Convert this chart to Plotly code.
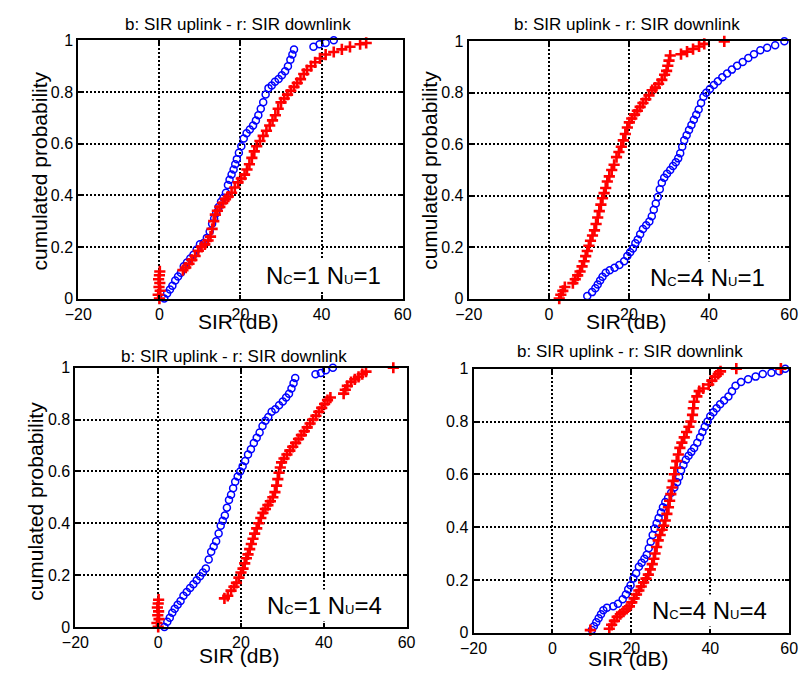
import plotly.graph_objects as go

# page is 812x678; the html body has an 8px margin, so the figure itself is 796x662
PAGE_OFF = 8
W, H = 796, 662

# ---------------- data (SIR in dB, cumulated probability) ----------------
# Panel 1: N_C=1 N_U=1
ul1_x = [1.2, 1.9, 2.6, 3.2, 3.9, 4.6, 5.3, 6.0, 6.8, 7.6, 8.4, 9.2, 10.0, 10.9, 11.7,
         12.4, 13.0, 13.5, 14.0, 14.6, 15.2, 15.8, 16.4, 16.9, 17.3, 17.8, 18.3, 18.7, 19.1, 19.6,
         20.2, 20.8, 21.5, 22.3, 23.1, 23.8, 24.4, 25.0, 25.6, 26.2, 26.9, 27.7, 28.5, 29.4, 30.2,
         31.0, 31.7, 32.3, 32.8, 33.2, 38.0, 39.5, 41.0, 43.0]
ul1_y = [0.0, 0.02, 0.035, 0.05, 0.07, 0.085, 0.10, 0.125, 0.14, 0.155, 0.17, 0.19, 0.21, 0.215, 0.235,
         0.26, 0.29, 0.31, 0.33, 0.355, 0.375, 0.39, 0.41, 0.44, 0.46, 0.48, 0.50, 0.52, 0.54, 0.565,
         0.59, 0.62, 0.64, 0.655, 0.67, 0.69, 0.71, 0.735, 0.76, 0.79, 0.815, 0.825, 0.84, 0.85, 0.865,
         0.88, 0.90, 0.925, 0.945, 0.965, 0.975, 0.985, 0.99, 1.0]
dl1_x = [0.0, -0.3, 0.2, -0.1, 0.1, -0.2, 0.0, 0.1,
         5.8, 6.5, 7.3, 8.0, 8.8, 9.6, 10.4, 11.2, 12.0, 12.6, 13.0, 13.4, 13.8, 14.3, 14.9,
         15.6, 16.3, 17.0, 17.8, 18.6, 19.4, 20.2, 21.0, 21.6, 22.2, 22.8, 23.4, 24.0, 24.8, 25.6,
         26.4, 27.2, 27.9, 28.6, 29.3, 30.0, 30.8, 31.6, 32.4, 33.2, 34.0, 34.8, 35.6, 36.4, 37.4,
         38.4, 39.6, 41.0, 43.0, 45.0, 47.0, 49.5, 51.0]
dl1_y = [0.0, 0.015, 0.03, 0.045, 0.06, 0.075, 0.09, 0.105,
         0.11, 0.12, 0.135, 0.15, 0.165, 0.185, 0.20, 0.21, 0.225, 0.24, 0.27, 0.30, 0.325, 0.34, 0.355,
         0.37, 0.385, 0.395, 0.41, 0.43, 0.45, 0.465, 0.48, 0.50, 0.52, 0.545, 0.57, 0.59, 0.61, 0.63,
         0.65, 0.67, 0.69, 0.71, 0.735, 0.76, 0.775, 0.79, 0.805, 0.82, 0.835, 0.85, 0.87, 0.885, 0.90,
         0.915, 0.93, 0.945, 0.955, 0.965, 0.975, 0.985, 0.99]

# Panel 2: N_C=4 N_U=1
ul2_x = [9.6, 10.8, 11.6, 12.2, 12.8, 13.4, 14.2, 15.2, 16.4, 17.6, 18.8, 19.6, 20.3, 21.0, 21.6,
         22.2, 22.8, 23.5, 24.3, 25.1, 25.7, 26.2, 26.7, 27.2, 27.7, 28.2, 28.8, 29.5, 30.3, 31.0,
         31.7, 32.3, 32.8, 33.3, 33.8, 34.4, 35.0, 35.6, 36.2, 36.8, 37.4, 38.0, 38.6, 39.3, 40.2,
         41.2, 42.2, 43.3, 44.5, 45.7, 47.0, 48.4, 49.8, 51.2, 52.8, 54.5, 56.5, 58.8]
ul2_y = [0.01, 0.025, 0.04, 0.055, 0.07, 0.085, 0.10, 0.11, 0.12, 0.13, 0.145, 0.165, 0.18, 0.195, 0.215,
         0.23, 0.25, 0.27, 0.285, 0.30, 0.32, 0.345, 0.37, 0.395, 0.425, 0.45, 0.47, 0.485, 0.50, 0.515,
         0.53, 0.545, 0.565, 0.59, 0.615, 0.635, 0.655, 0.675, 0.695, 0.715, 0.735, 0.76, 0.785, 0.80, 0.815,
         0.83, 0.845, 0.86, 0.875, 0.89, 0.905, 0.92, 0.935, 0.95, 0.965, 0.975, 0.985, 1.0]
dl2_x = [2.6, 3.0, 3.5, 4.0, 6.0, 6.6, 7.2, 7.8, 8.3, 8.8, 9.2, 9.6, 10.0, 10.4, 10.9,
         11.4, 11.8, 12.2, 12.6, 13.0, 13.4, 13.8, 14.2, 14.6, 15.1, 15.7, 16.3, 16.9, 17.5, 18.1,
         18.6, 19.1, 19.6, 20.1, 20.7, 21.4, 22.1, 22.8, 23.5, 24.2, 25.0, 25.8, 26.6, 27.4, 28.2,
         28.9, 29.4, 29.7, 30.0, 30.3, 33.0, 34.5, 36.0, 37.5, 38.8, 43.8]
dl2_y = [0.0, 0.015, 0.03, 0.045, 0.06, 0.075, 0.09, 0.105, 0.125, 0.145, 0.165, 0.185, 0.205, 0.225, 0.245,
         0.265, 0.29, 0.315, 0.34, 0.365, 0.39, 0.41, 0.43, 0.455, 0.475, 0.50, 0.52, 0.55, 0.57, 0.59,
         0.615, 0.64, 0.665, 0.685, 0.70, 0.715, 0.73, 0.745, 0.76, 0.775, 0.79, 0.81, 0.82, 0.835, 0.85,
         0.87, 0.885, 0.905, 0.925, 0.945, 0.95, 0.96, 0.97, 0.98, 0.99, 1.0]

# Panel 3: N_C=1 N_U=4
ul3_x = [1.5, 2.2, 2.8, 3.4, 4.0, 4.7, 5.4, 6.1, 6.9, 7.7, 8.5, 9.3, 10.1, 10.8, 11.5,
         12.2, 12.8, 13.4, 14.0, 14.6, 15.1, 15.6, 16.1, 16.6, 17.1, 17.6, 18.1, 18.6, 19.2, 19.8,
         20.4, 21.0, 21.7, 22.4, 23.1, 23.8, 24.5, 25.2, 25.9, 26.6, 27.4, 28.3, 29.2, 30.1, 30.9,
         31.6, 32.2, 32.7, 33.1, 38.0, 39.3, 40.5, 42.2]
ul3_y = [0.0, 0.02, 0.035, 0.055, 0.07, 0.085, 0.10, 0.12, 0.135, 0.15, 0.165, 0.18, 0.195, 0.21, 0.225,
         0.26, 0.29, 0.31, 0.33, 0.36, 0.39, 0.41, 0.43, 0.46, 0.49, 0.51, 0.535, 0.56, 0.58, 0.60,
         0.62, 0.64, 0.665, 0.685, 0.71, 0.73, 0.75, 0.775, 0.795, 0.81, 0.83, 0.84, 0.855, 0.87, 0.885,
         0.90, 0.92, 0.94, 0.96, 0.975, 0.98, 0.99, 1.0]
dl3_x = [0.0, -0.3, 0.2, -0.1, 0.1, -0.2, 0.0, 0.1,
         16.0, 16.8, 17.6, 18.3, 18.9, 19.5, 20.0, 20.5, 20.9, 21.3, 21.7, 22.1, 22.5, 22.9, 23.3,
         23.8, 24.3, 24.8, 25.3, 25.9, 26.5, 27.1, 27.7, 28.2, 28.6, 28.9, 29.2, 29.5, 29.8, 30.4,
         31.1, 31.8, 32.5, 33.2, 33.9, 34.6, 35.3, 36.0, 36.7, 37.4, 38.1, 38.8, 39.5, 40.2, 40.9,
         41.6, 44.8, 45.2, 45.7, 46.6, 47.5, 48.4, 49.3, 50.2, 56.8]
dl3_y = [0.0, 0.015, 0.03, 0.045, 0.06, 0.075, 0.09, 0.105,
         0.11, 0.12, 0.14, 0.155, 0.17, 0.19, 0.21, 0.225, 0.245, 0.265, 0.28, 0.30, 0.32, 0.34, 0.36,
         0.38, 0.40, 0.42, 0.44, 0.455, 0.47, 0.485, 0.50, 0.52, 0.545, 0.57, 0.595, 0.615, 0.635, 0.65,
         0.665, 0.68, 0.695, 0.71, 0.725, 0.74, 0.755, 0.77, 0.785, 0.80, 0.815, 0.83, 0.845, 0.86, 0.875,
         0.885, 0.90, 0.915, 0.93, 0.945, 0.955, 0.965, 0.975, 0.985, 1.0]

# Panel 4: N_C=4 N_U=4
ul4_x = [10.0, 10.5, 11.1, 11.7, 12.3, 12.9, 13.8, 15.4, 16.6, 17.8, 18.6, 19.2, 19.8, 20.5, 21.2,
         21.9, 22.6, 23.3, 23.9, 24.4, 24.9, 25.4, 25.9, 26.4, 26.9, 27.5, 28.0, 28.6, 29.3, 30.1,
         30.9, 31.6, 32.1, 32.6, 33.2, 33.8, 34.5, 35.2, 35.9, 36.7, 37.4, 38.0, 38.6, 39.3, 40.0,
         40.8, 41.6, 42.5, 43.5, 44.6, 45.5, 46.4, 47.8, 49.6, 51.5, 53.3, 55.5, 57.5, 59.0]
ul4_y = [0.01, 0.025, 0.04, 0.055, 0.07, 0.085, 0.095, 0.10, 0.11, 0.127, 0.145, 0.165, 0.18, 0.205, 0.225,
         0.25, 0.265, 0.28, 0.295, 0.32, 0.345, 0.37, 0.395, 0.415, 0.435, 0.455, 0.475, 0.495, 0.51, 0.53,
         0.55, 0.57, 0.59, 0.615, 0.635, 0.655, 0.67, 0.685, 0.70, 0.72, 0.74, 0.76, 0.78, 0.80, 0.82,
         0.835, 0.85, 0.865, 0.88, 0.895, 0.915, 0.935, 0.95, 0.96, 0.97, 0.98, 0.985, 0.99, 1.0]
dl4_x = [9.6, 14.4, 15.0, 15.7, 16.4, 17.2, 18.0, 18.8, 19.5, 20.1, 20.7, 21.3, 21.9, 22.5, 23.1,
         23.7, 24.3, 24.8, 25.3, 25.7, 26.0, 26.4, 26.8, 27.3, 27.8, 28.2, 28.6, 29.0, 29.4, 29.7,
         30.0, 30.3, 30.6, 30.9, 31.2, 31.5, 31.9, 32.3, 32.8, 33.4, 34.0, 34.6, 35.1, 35.5, 35.7,
         35.9, 36.6, 37.2, 38.2, 39.6, 40.4, 41.2, 42.0, 42.6, 46.6, 57.9]
dl4_y = [0.01, 0.015, 0.03, 0.045, 0.06, 0.07, 0.08, 0.09, 0.10, 0.115, 0.13, 0.145, 0.16, 0.175, 0.19,
         0.205, 0.22, 0.24, 0.26, 0.28, 0.30, 0.325, 0.35, 0.37, 0.39, 0.405, 0.425, 0.45, 0.475, 0.50,
         0.525, 0.55, 0.575, 0.60, 0.625, 0.65, 0.675, 0.70, 0.72, 0.74, 0.76, 0.78, 0.80, 0.825, 0.85,
         0.875, 0.895, 0.915, 0.925, 0.94, 0.955, 0.97, 0.98, 0.99, 1.0, 1.0]

x_ticks = [-20, 0, 20, 40, 60]
y_ticks = [0, 0.2, 0.4, 0.6, 0.8, 1]
y_ticktext = ["0", "0.2", "0.4", "0.6", "0.8", "1"]
title_text = "b: SIR uplink - r: SIR downlink"
xlabel_text = "SIR (dB)"
ylabel_text = "cumulated probability"
SUB = '<span style="font-size:13px">%s</span>'
panel_labels = ["N" + SUB % "C" + "=1 N" + SUB % "U" + "=1",
                "N" + SUB % "C" + "=4 N" + SUB % "U" + "=1",
                "N" + SUB % "C" + "=1 N" + SUB % "U" + "=4",
                "N" + SUB % "C" + "=4 N" + SUB % "U" + "=4"]

panels = [(ul1_x, ul1_y, dl1_x, dl1_y), (ul2_x, ul2_y, dl2_x, dl2_y),
          (ul3_x, ul3_y, dl3_x, dl3_y), (ul4_x, ul4_y, dl4_x, dl4_y)]

# ---------------- layout geometry (page pixels) ----------------
areas = [(66, 400, 33, 298), (468, 798, 34, 298), (63, 404, 369, 635), (473, 798, 370, 641)]
title_pos = [(230, 17), (631, 17), (226, 357), (634, 352)]
xlab_pos = [(231, 322), (631, 322), (232, 664), (633, 667)]
ylab_pos = [(26, 167), (428, 166), (22, 506), None]
ann_pos = [(318, 274), (714, 276), (319, 613), (716, 618)]

FONT = "Liberation Sans, Arial, sans-serif"


def px(x):
    return (x - PAGE_OFF) / W


def py(y):
    return 1 - (y - PAGE_OFF) / H


fig = go.Figure()
layout = dict(width=W, height=H, margin=dict(l=0, r=0, t=0, b=0), autosize=False,
              paper_bgcolor="white", plot_bgcolor="white", showlegend=False,
              font=dict(family=FONT, color="black"))
annotations = []

for i, ((bx, by, rx, ry), (l, r, t, b)) in enumerate(zip(panels, areas)):
    n = "" if i == 0 else str(i + 1)
    xa, ya = "x" + n, "y" + n
    fig.add_trace(go.Scatter(x=bx, y=by, mode="markers", xaxis=xa, yaxis=ya, cliponaxis=False,
                             marker=dict(symbol="circle-open", size=7, color="#0000ff",
                                         line=dict(width=1.5, color="#0000ff"))))
    fig.add_trace(go.Scatter(x=rx, y=ry, mode="markers", xaxis=xa, yaxis=ya, cliponaxis=False,
                             marker=dict(symbol="cross-thin", size=8, color="#ff0000",
                                         line=dict(width=2.6, color="#ff0000"))))
    common = dict(showgrid=True, gridcolor="black", griddash="2px,2px", gridwidth=1.5,
                  showline=True, linecolor="black", linewidth=2, mirror="ticks",
                  ticks="inside", ticklen=4, tickwidth=2, tickcolor="black", zeroline=False,
                  tickfont=dict(family=FONT, size=16, color="black"))
    layout["xaxis" + n] = dict(domain=[px(l), px(r)], range=[-20, 60], tickvals=x_ticks,
                               anchor=ya, **common)
    layout["yaxis" + n] = dict(domain=[py(b), py(t)], range=[0, 1], tickvals=y_ticks,
                               ticktext=y_ticktext, anchor=xa, **common)
    tx, ty = title_pos[i]
    annotations.append(dict(text=title_text, x=px(tx), y=py(ty), xref="paper", yref="paper",
                            xanchor="center", yanchor="middle", showarrow=False,
                            font=dict(family=FONT, size=17, color="black")))
    lx, ly = xlab_pos[i]
    annotations.append(dict(text=xlabel_text, x=px(lx), y=py(ly), xref="paper", yref="paper",
                            xanchor="center", yanchor="middle", showarrow=False,
                            font=dict(family=FONT, size=21, color="black")))
    if ylab_pos[i] is not None:
        yx, yy = ylab_pos[i]
        annotations.append(dict(text=ylabel_text, x=px(yx), y=py(yy), xref="paper", yref="paper",
                                xanchor="center", yanchor="middle", showarrow=False, textangle=-90,
                                font=dict(family=FONT, size=21, color="black")))
    ax_, ay_ = ann_pos[i]
    annotations.append(dict(text=panel_labels[i], x=px(ax_), y=py(ay_), xref="paper", yref="paper",
                            xanchor="center", yanchor="middle", showarrow=False,
                            bgcolor="white", borderpad=2,
                            font=dict(family=FONT, size=24, color="black")))

layout["annotations"] = annotations
fig.update_layout(**layout)
fig.write_html("out.html")
